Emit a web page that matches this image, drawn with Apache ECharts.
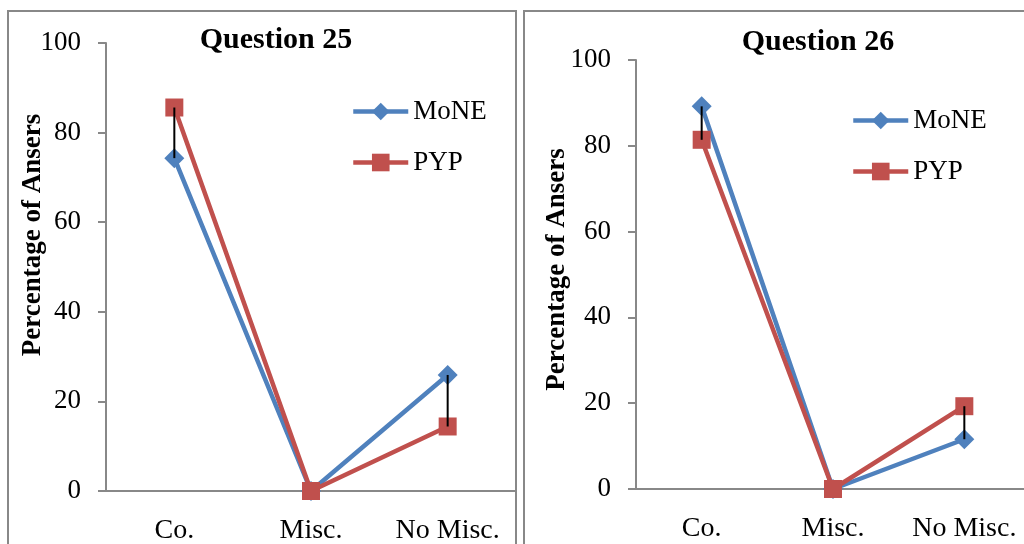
<!DOCTYPE html>
<html>
<head>
<meta charset="utf-8">
<script src="https://cdn.jsdelivr.net/npm/echarts@6/dist/echarts.min.js"></script>
<style>
  html, body { margin: 0; padding: 0; background: #fff; }
  #chart { width: 1024px; height: 544px; }
</style>
</head>
<body>
<div id="chart"></div>
<script>
const categories = ["Co.", "Misc.", "No Misc."];
const q25Mone = [74.3, 0, 25.9];
const q25Pyp = [85.6, 0, 14.4];
const q26Mone = [89.2, 0, 11.6];
const q26Pyp = [81.4, 0, 19.3];
const titles = ["Question 25", "Question 26"];
const yTicks = [0, 20, 40, 60, 80, 100];

const BLUE = "#4f81bd";
const RED = "#c0504d";
const AXIS = "#888888";
const FONT = "Liberation Serif";

// black drop line between the two series at each category
function dropLines(params, api) {
  const a = api.coord([api.value(0), api.value(1)]);
  const b = api.coord([api.value(0), api.value(2)]);
  if (Math.abs(a[1] - b[1]) < 1) return null;
  return {
    type: "line",
    shape: { x1: a[0], y1: a[1], x2: b[0], y2: b[1] },
    style: { stroke: "#000", lineWidth: 2 },
  };
}

function pairs(mone, pyp) {
  return categories.map((_, i) => [i, mone[i], pyp[i]]);
}

const grids = [
  { left: 106, top: 43, width: 410, bottom: 53, outerBoundsMode: "none" },
  { left: 636, top: 60, width: 394, bottom: 55, outerBoundsMode: "none" },
];
const nameGaps = [59, 65];
const namePads = [[0, 0, 0, 64], [0, 0, 0, 10]];
const legendPos = [[346, 93], [846, 102]];

function legend(i) {
  return {
    left: legendPos[i][0], top: legendPos[i][1], orient: "vertical",
    itemWidth: 55, itemHeight: 22, itemGap: 24,
    lineStyle: { width: 4.5 },
    data: ["MoNE", "PYP"],
    textStyle: { fontFamily: FONT, fontSize: 27, color: "#000", lineHeight: 27 },
  };
}

const chart = echarts.init(document.getElementById("chart"));

chart.setOption({
  backgroundColor: "#fff",
  textStyle: { fontFamily: FONT },
  graphic: [
    { type: "rect", shape: { x: 8, y: 11, width: 508, height: 560 }, style: { fill: "none", stroke: AXIS, lineWidth: 2 } },
    { type: "rect", shape: { x: 524, y: 11, width: 560, height: 560 }, style: { fill: "none", stroke: AXIS, lineWidth: 2 } },
  ],
  title: [
    { text: titles[0], left: 271, top: 20, textAlign: "center",
      textStyle: { fontFamily: FONT, fontSize: 30, fontWeight: "bold", color: "#000" } },
    { text: titles[1], left: 813, top: 22, textAlign: "center",
      textStyle: { fontFamily: FONT, fontSize: 30, fontWeight: "bold", color: "#000" } },
  ],
  legend: [legend(0), legend(1)],
  grid: grids,
  xAxis: grids.map((_, i) => ({
    type: "category",
    gridIndex: i,
    data: categories,
    axisLine: { lineStyle: { color: AXIS, width: 2 } },
    axisTick: { show: false },
    axisLabel: { color: "#000", fontSize: 28, fontFamily: FONT, margin: 26, interval: 0 },
  })),
  yAxis: grids.map((_, i) => ({
    type: "value",
    gridIndex: i,
    min: yTicks[0],
    max: yTicks[yTicks.length - 1],
    interval: yTicks[1] - yTicks[0],
    name: "Percentage of Ansers",
    nameLocation: "middle",
    nameGap: nameGaps[i],
    nameMoveOverlap: false,
    nameTextStyle: { color: "#000", fontSize: 27, fontWeight: "bold", fontFamily: FONT, padding: namePads[i] },
    splitLine: { show: false },
    axisLine: { show: true, lineStyle: { color: AXIS, width: 2 } },
    axisTick: { show: true, length: 8, lineStyle: { color: AXIS, width: 2 } },
    axisLabel: { color: "#000", fontSize: 27, fontFamily: FONT, margin: 25 },
  })),
  series: [
    { name: "MoNE", type: "line", xAxisIndex: 0, yAxisIndex: 0, data: q25Mone,
      symbol: "diamond", symbolSize: 20, itemStyle: { color: BLUE }, lineStyle: { color: BLUE, width: 4.5 } },
    { name: "PYP", type: "line", xAxisIndex: 0, yAxisIndex: 0, data: q25Pyp,
      symbol: "rect", symbolSize: 18, itemStyle: { color: RED }, lineStyle: { color: RED, width: 4.5 } },
    { type: "custom", xAxisIndex: 0, yAxisIndex: 0, data: pairs(q25Mone, q25Pyp),
      renderItem: dropLines, encode: { x: 0, y: [1, 2] }, z: 10, silent: true },
    { name: "MoNE", type: "line", xAxisIndex: 1, yAxisIndex: 1, data: q26Mone,
      symbol: "diamond", symbolSize: 20, itemStyle: { color: BLUE }, lineStyle: { color: BLUE, width: 4.5 } },
    { name: "PYP", type: "line", xAxisIndex: 1, yAxisIndex: 1, data: q26Pyp,
      symbol: "rect", symbolSize: 18, itemStyle: { color: RED }, lineStyle: { color: RED, width: 4.5 } },
    { type: "custom", xAxisIndex: 1, yAxisIndex: 1, data: pairs(q26Mone, q26Pyp),
      renderItem: dropLines, encode: { x: 0, y: [1, 2] }, z: 10, silent: true },
  ],
  animation: false,
});
</script>
</body>
</html>
